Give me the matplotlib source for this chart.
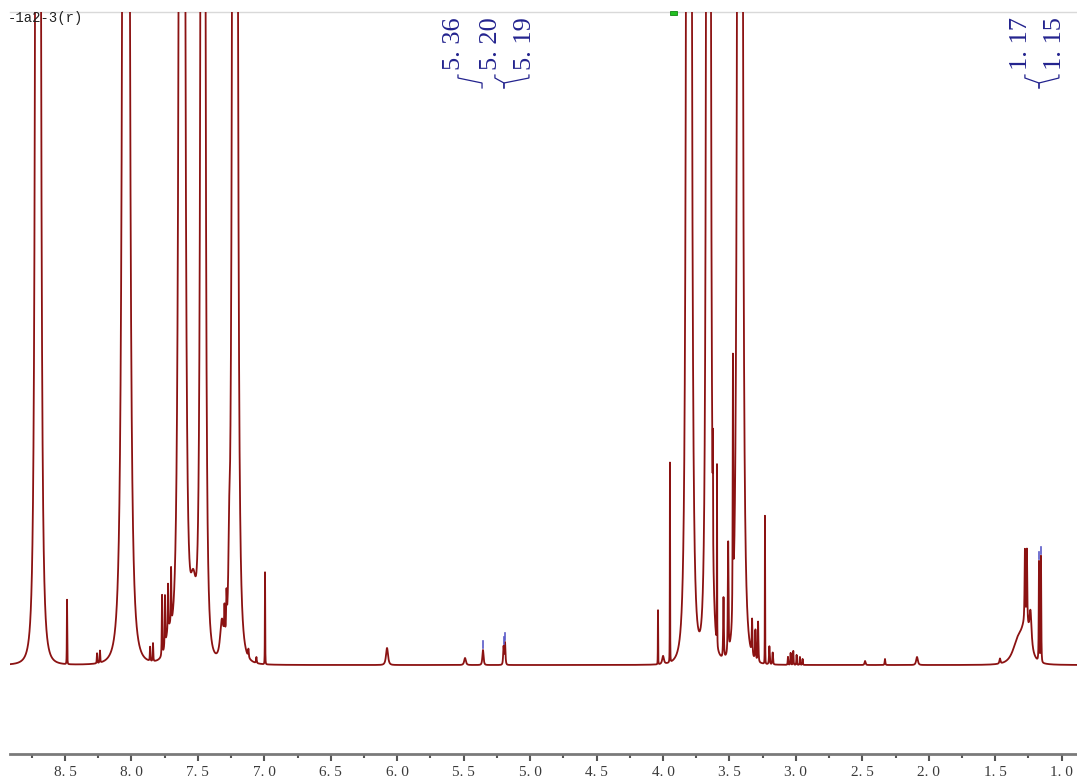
import numpy as np
import matplotlib
matplotlib.use("Agg")
import matplotlib.pyplot as plt
from matplotlib.ticker import FixedLocator, FuncFormatter
from matplotlib.patches import Rectangle

# ---------------- data ----------------
# peak centres (ppm), heights (arbitrary units = px above baseline), half-widths (ppm)
peak_ppm = [8.703, 8.041, 7.620, 7.462, 7.221, 3.805, 3.658, 3.421,
            8.485, 8.259, 8.237, 7.860, 7.838, 7.770, 7.748, 7.725, 7.702, 7.720,
            7.535, 7.320, 7.300, 7.285, 7.265, 7.120, 7.060, 6.995,
            6.077, 5.490, 5.355, 5.200, 5.189,
            4.038, 4.000, 3.948, 3.625, 3.594, 3.545, 3.510, 3.474,
            3.330, 3.305, 3.285, 3.233, 3.200, 3.175,
            3.060, 3.040, 3.020, 2.995, 2.970, 2.950,
            2.480, 2.330, 2.089, 1.465,
            1.270, 1.330, 1.277, 1.262, 1.235, 1.171, 1.156]
peak_height = [8000, 8000, 8000, 8000, 8000, 8000, 8000, 8000,
               65, 10, 12, 14, 18, 60, 50, 45, 55, 25,
               60, 35, 30, 35, 55, 8, 6, 92,
               17, 7, 15, 18, 22,
               55, 8, 200, 90, 180, 60, 110, 250,
               35, 30, 40, 150, 18, 12,
               8, 12, 14, 10, 8, 6,
               4, 6, 8, 5,
               38, 20, 70, 72, 32, 100, 106]
peak_width = [0.0118, 0.0154, 0.0134, 0.0103, 0.0118, 0.0118, 0.0098, 0.0118,
              0.002, 0.003, 0.003, 0.003, 0.003, 0.003, 0.003, 0.003, 0.003, 0.04,
              0.035, 0.020, 0.004, 0.004, 0.008, 0.004, 0.004, 0.0018,
              0.012, 0.010, 0.007, 0.005, 0.005,
              0.0015, 0.010, 0.0015, 0.0015, 0.0015, 0.004, 0.004, 0.003,
              0.004, 0.004, 0.004, 0.0015, 0.004, 0.004,
              0.003, 0.003, 0.003, 0.003, 0.003, 0.003,
              0.006, 0.004, 0.010, 0.006,
              0.05, 0.06, 0.004, 0.004, 0.012, 0.003, 0.003]
line_shape_exponent = 1.6

# peak labels
label_text = ["5. 36", "5. 20", "5. 19", "1. 17", "1. 15"]
label_ppm = [5.573, 5.295, 5.039, 1.307, 1.051]
label_target_ppm = [5.362, 5.197, 5.197, 1.171, 1.171]
marker_ppm = [5.355, 5.200, 5.189, 1.171, 1.156]

major_ticks = [8.5, 8.0, 7.5, 7.0, 6.5, 6.0, 5.5, 5.0, 4.5, 4.0, 3.5, 3.0, 2.5, 2.0, 1.5, 1.0]
minor_ticks = [8.75, 8.25, 7.75, 7.25, 6.75, 6.25, 5.75, 5.25, 4.75, 4.25,
               3.75, 3.25, 2.75, 2.25, 1.75, 1.25]

title_text = "-1a2-3(r)"

# ---------------- build spectrum ----------------
ppm = np.linspace(8.92, 0.88, 24000)
intensity = np.zeros_like(ppm)
for c, h, w in zip(peak_ppm, peak_height, peak_width):
    intensity += h / (1.0 + ((ppm - c) / w) ** 2) ** line_shape_exponent

def spec_at(v):
    return float(np.interp(v, ppm[::-1], intensity[::-1]))

# ---------------- figure ----------------
W, H = 1077, 780
fig = plt.figure(figsize=(W / 100, H / 100), dpi=100)
ax = fig.add_axes([10 / W, (H - 754) / H, 1067 / W, 742 / H])
ax.set_xlim(8.914, 0.885)
ax.set_ylim(-89, 653)

ax.plot(ppm, intensity, color="#8b1212", lw=1.3, zorder=3)

# spines
for s in ["left", "right"]:
    ax.spines[s].set_visible(False)
ax.spines["top"].set_color("#d9d9d9")
ax.spines["top"].set_linewidth(1.0)
ax.spines["bottom"].set_color("#7a7a7a")
ax.spines["bottom"].set_linewidth(2.0)

ax.yaxis.set_visible(False)
ax.xaxis.set_major_locator(FixedLocator(major_ticks))
ax.xaxis.set_minor_locator(FixedLocator(minor_ticks))
ax.xaxis.set_major_formatter(FuncFormatter(lambda v, p: f"{v:.1f}".replace(".", ". ")))
ax.tick_params(axis="x", which="major", length=5, width=1.5, color="#555555",
               pad=4, labelsize=11, labelcolor="#3a3a3a")
ax.tick_params(axis="x", which="minor", length=3, width=1.5, color="#555555")
for lab in ax.get_xticklabels():
    lab.set_family("Liberation Serif")

# peak labels with brackets
blue = "#23238e"
for txt, lx, tx in zip(label_text, label_ppm, label_target_ppm):
    ax.text(lx, 595, txt, rotation=90, ha="center", va="bottom",
            fontsize=19, family="Liberation Serif", color=blue, zorder=5)
    sx = lx - 0.03
    ax.plot([sx, sx, tx, tx], [590, 587, 582, 577], color=blue, lw=0.9,
            solid_joinstyle="miter", zorder=5)

# small peak-pick markers
for mx in marker_ppm:
    top = spec_at(mx)
    ax.plot([mx, mx], [top + 2, top + 9], color="#5a5ac8", lw=1.2, zorder=4)

# title and green marker
fig.text(8 / W, 1 - 18 / H, title_text, family="Liberation Mono", fontsize=10,
         color="#222222", va="center", ha="left", zorder=0)
fig.patches.append(Rectangle((670 / W, 1 - 15 / H), 7 / W, 4 / H,
                             transform=fig.transFigure, facecolor="#22c022",
                             edgecolor="#118811", lw=0.6))

fig.savefig("out.png", dpi=100)
